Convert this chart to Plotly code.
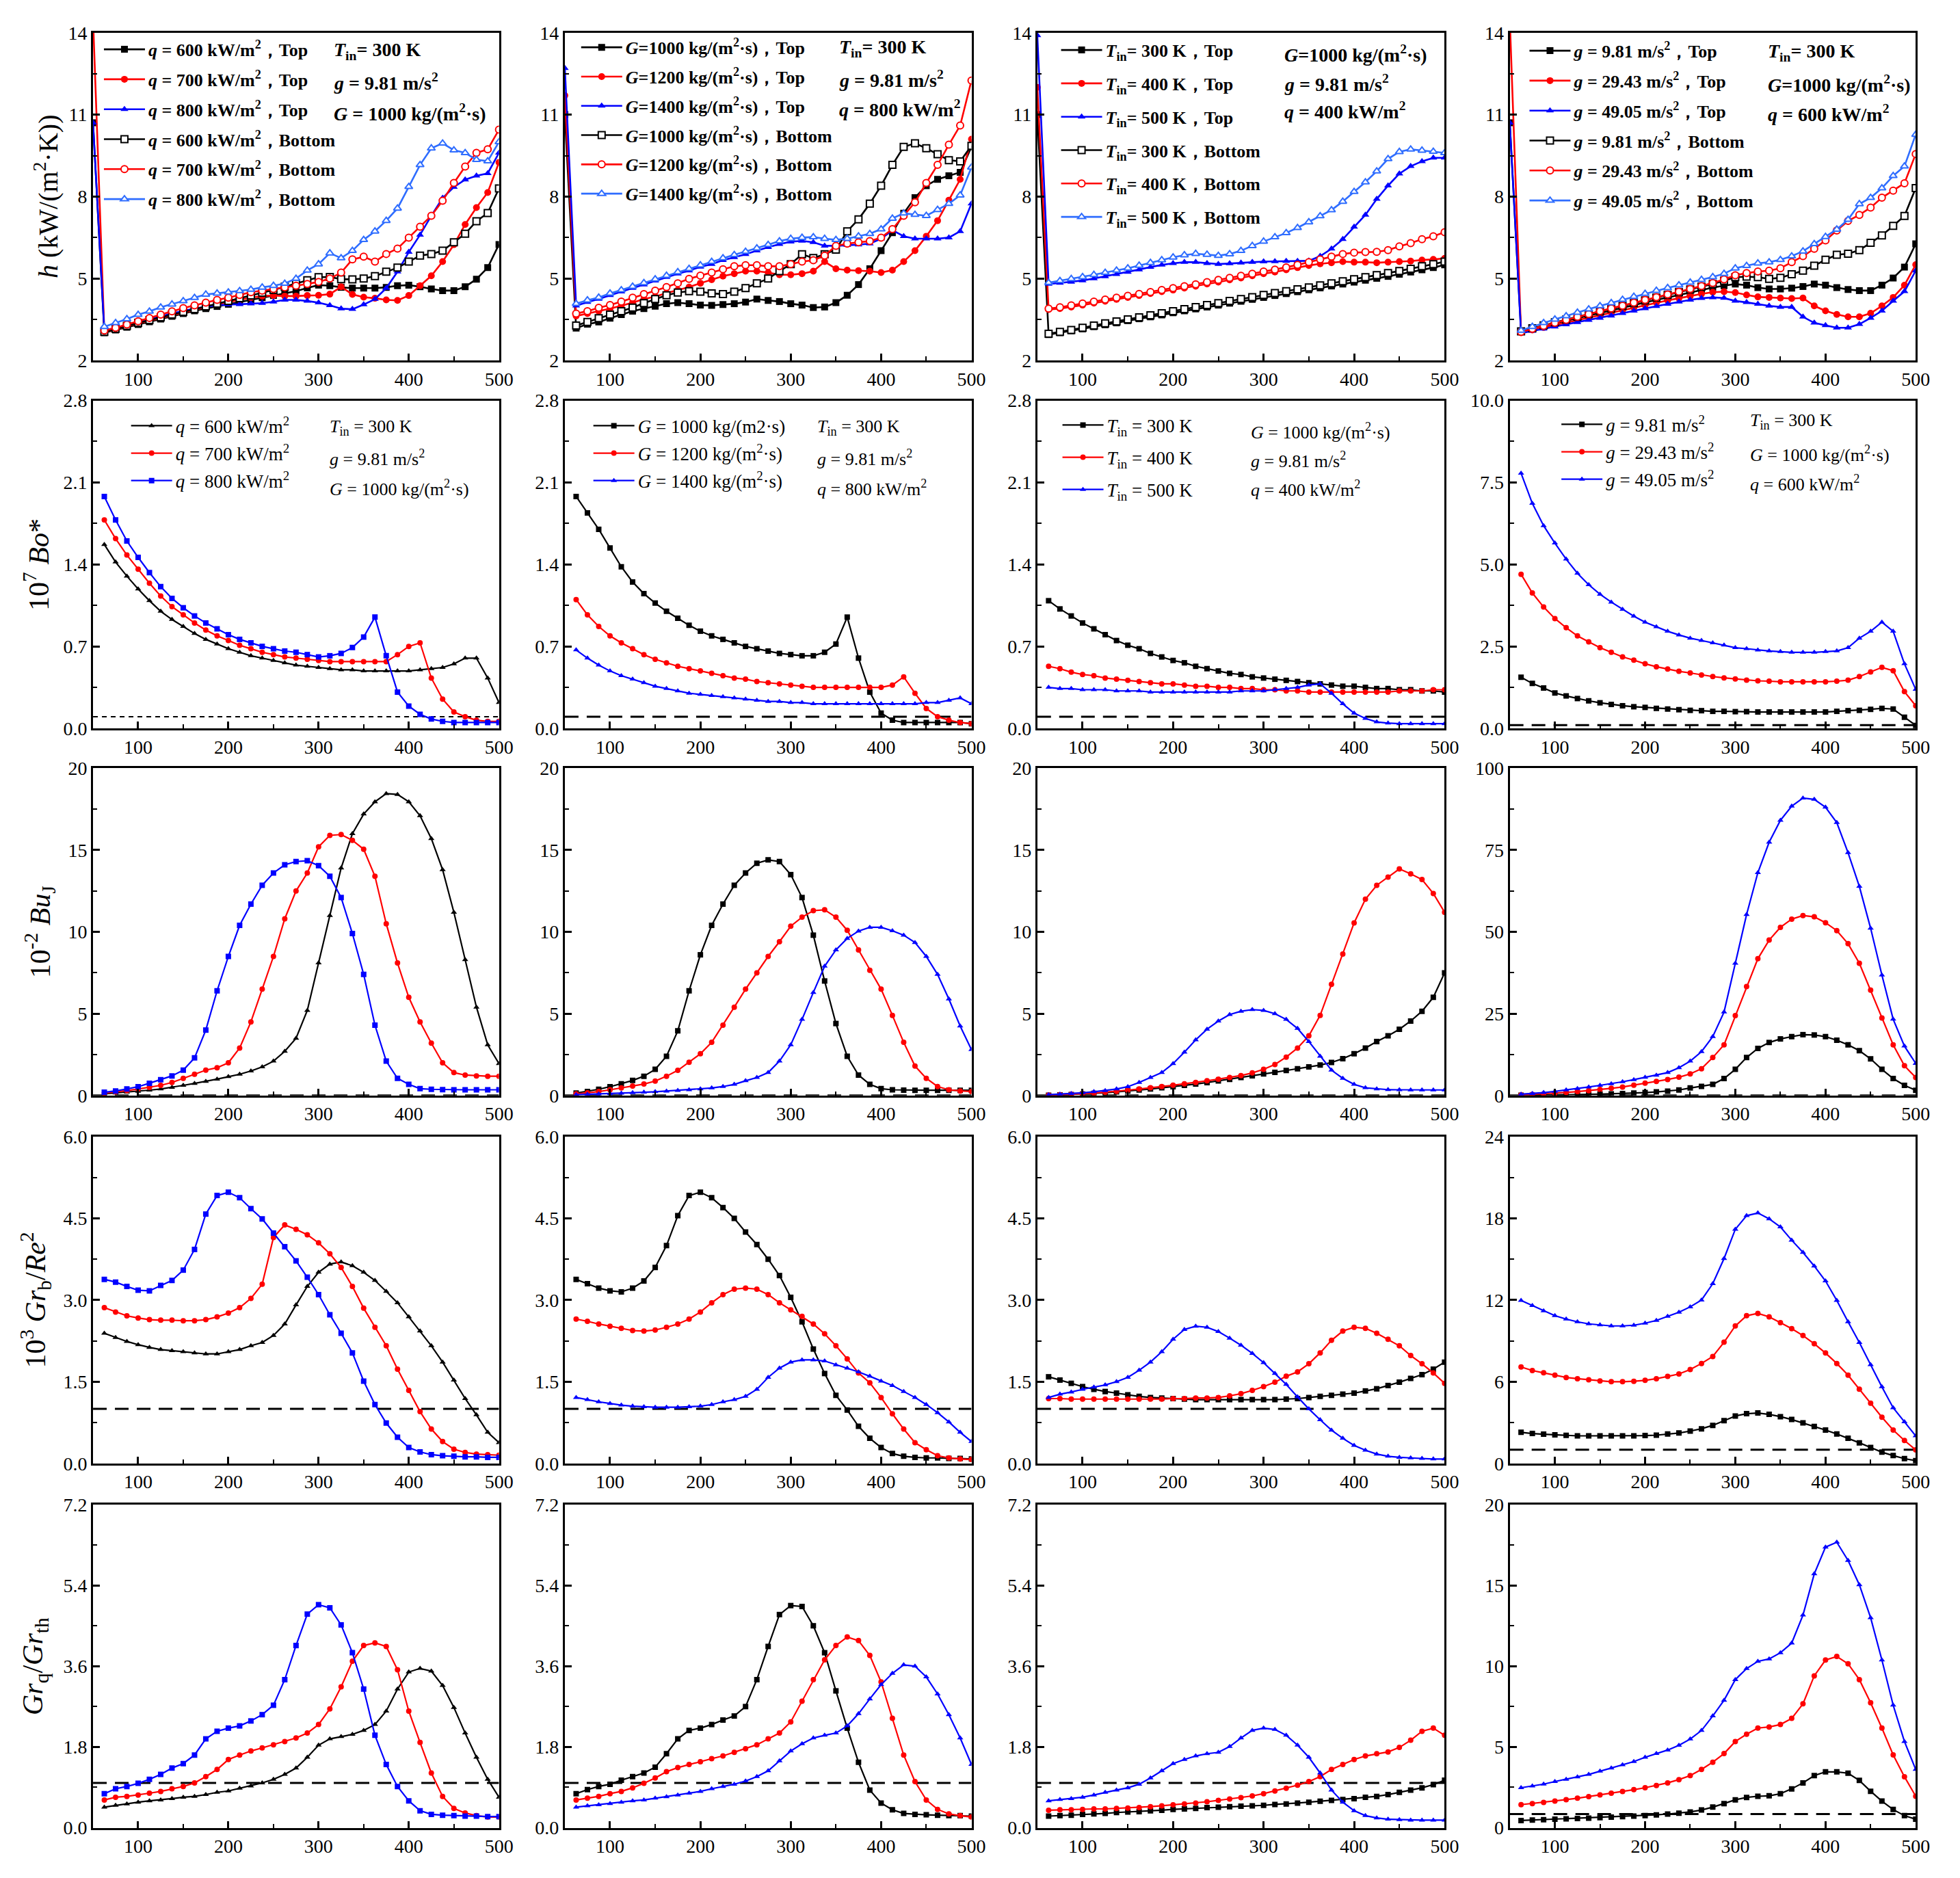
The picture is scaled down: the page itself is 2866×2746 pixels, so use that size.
import plotly.graph_objects as go
from plotly.subplots import make_subplots

W, H = 2866, 2746          # page (window) size
PAD = 8                    # browser body margin
FW, FH = W - 2 * PAD, H - 2 * PAD   # figure size so page is exactly W x H
FONT = "Liberation Serif, Times New Roman, serif"

# ---------------- x positions ----------------
X = [62.5, 75, 87.5, 100, 112.5, 125, 137.5, 150, 162.5, 175, 187.5, 200,
     212.5, 225, 237.5, 250, 262.5, 275, 287.5, 300, 312.5, 325, 337.5, 350,
     362.5, 375, 387.5, 400, 412.5, 425, 437.5, 450, 462.5, 475, 487.5, 500]
X_TOP = [50] + X
X_TICKS = [100, 200, 300, 400, 500]
X_TICK_TEXT = ["100", "200", "300", "400", "500"]

# ---------------- row 1 : h ----------------
H1_BT = [10.7, 3.02, 3.12, 3.22, 3.32, 3.42, 3.52, 3.62, 3.72, 3.82, 3.9, 3.98, 4.06, 4.14, 4.22, 4.3, 4.38, 4.46, 4.54, 4.66, 4.76, 4.74, 4.68, 4.65, 4.65, 4.65, 4.68, 4.74, 4.76, 4.7, 4.62, 4.56, 4.56, 4.7, 4.98, 5.4, 6.25]
H1_RT = [14.5, 3.05, 3.15, 3.26, 3.36, 3.46, 3.56, 3.66, 3.76, 3.86, 3.96, 4.05, 4.14, 4.22, 4.3, 4.36, 4.38, 4.36, 4.36, 4.38, 4.39, 4.43, 4.7, 4.42, 4.32, 4.28, 4.22, 4.2, 4.38, 4.74, 5.1, 5.62, 6.24, 6.98, 7.6, 8.15, 9.25]
H1_UT = [10.7, 3.1, 3.2, 3.3, 3.42, 3.52, 3.62, 3.72, 3.82, 3.9, 3.97, 4.02, 4.05, 4.06, 4.08, 4.1, 4.15, 4.22, 4.22, 4.18, 4.12, 4.02, 3.9, 3.88, 4.05, 4.25, 4.65, 5.25, 5.97, 6.6, 7.3, 7.95, 8.35, 8.62, 8.76, 8.85, 9.6]
H1_BB = [3.05, 3.16, 3.27, 3.38, 3.48, 3.58, 3.68, 3.78, 3.88, 3.98, 4.08, 4.18, 4.28, 4.38, 4.48, 4.58, 4.7, 4.82, 4.94, 5.05, 5.06, 4.98, 4.97, 5.0, 5.09, 5.25, 5.4, 5.62, 5.84, 5.9, 6.02, 6.33, 6.64, 7.1, 7.4, 8.3]
H1_RB = [3.1, 3.2, 3.32, 3.44, 3.56, 3.68, 3.8, 3.92, 4.02, 4.12, 4.22, 4.3, 4.4, 4.5, 4.56, 4.62, 4.68, 4.74, 4.8, 4.88, 5.0, 5.22, 5.7, 5.8, 5.62, 5.9, 6.1, 6.5, 6.9, 7.3, 7.85, 8.5, 9.1, 9.6, 9.73, 10.45]
H1_UB = [3.24, 3.38, 3.52, 3.68, 3.8, 3.95, 4.06, 4.18, 4.3, 4.42, 4.46, 4.5, 4.55, 4.6, 4.68, 4.74, 4.82, 5.0, 5.3, 5.53, 5.93, 5.75, 6.02, 6.42, 6.73, 7.12, 7.57, 8.36, 9.16, 9.77, 9.95, 9.7, 9.6, 9.35, 9.3, 10.0]

H2_BT = [11.0, 3.19, 3.33, 3.41, 3.55, 3.68, 3.81, 3.9, 3.99, 4.08, 4.12, 4.08, 4.03, 4.02, 4.05, 4.08, 4.14, 4.25, 4.2, 4.16, 4.08, 4.03, 3.94, 3.96, 4.12, 4.39, 4.78, 5.36, 6.02, 6.68, 7.39, 7.96, 8.4, 8.63, 8.76, 8.89, 9.82]
H2_RT = [11.7, 3.63, 3.72, 3.81, 3.9, 4.01, 4.12, 4.25, 4.34, 4.47, 4.58, 4.69, 4.83, 4.96, 5.09, 5.18, 5.27, 5.27, 5.22, 5.14, 5.14, 5.18, 5.27, 5.62, 5.36, 5.31, 5.29, 5.27, 5.22, 5.31, 5.62, 6.02, 6.55, 7.12, 7.87, 8.63, 10.1]
H2_UT = [12.7, 4.01, 4.14, 4.25, 4.39, 4.52, 4.65, 4.78, 4.92, 5.05, 5.18, 5.29, 5.43, 5.53, 5.67, 5.78, 5.89, 6.02, 6.15, 6.26, 6.35, 6.38, 6.33, 6.2, 6.2, 6.22, 6.24, 6.28, 6.46, 6.77, 6.55, 6.46, 6.46, 6.46, 6.5, 6.73, 7.74]
H2_BB = [3.28, 3.41, 3.55, 3.68, 3.81, 3.94, 4.1, 4.25, 4.39, 4.49, 4.54, 4.52, 4.46, 4.43, 4.52, 4.65, 4.83, 5.0, 5.27, 5.53, 5.89, 5.75, 5.89, 6.06, 6.73, 7.17, 7.74, 8.4, 9.16, 9.82, 9.95, 9.77, 9.55, 9.33, 9.29, 9.86]
H2_RB = [3.72, 3.81, 3.93, 4.03, 4.16, 4.3, 4.43, 4.56, 4.69, 4.83, 4.99, 5.11, 5.22, 5.34, 5.45, 5.49, 5.49, 5.45, 5.45, 5.53, 5.62, 5.67, 5.84, 6.2, 6.28, 6.33, 6.37, 6.5, 6.81, 7.3, 7.79, 8.5, 9.16, 9.9, 10.6, 12.25]
H2_UB = [4.08, 4.21, 4.31, 4.46, 4.58, 4.71, 4.84, 4.98, 5.11, 5.24, 5.36, 5.49, 5.62, 5.75, 5.87, 5.99, 6.11, 6.24, 6.37, 6.46, 6.5, 6.52, 6.46, 6.42, 6.46, 6.55, 6.64, 6.81, 7.2, 7.39, 7.34, 7.3, 7.52, 7.74, 8.05, 9.07]

H3_BT = [11.0, 2.95, 3.02, 3.09, 3.16, 3.24, 3.31, 3.38, 3.46, 3.53, 3.6, 3.67, 3.75, 3.82, 3.89, 3.96, 4.03, 4.1, 4.17, 4.24, 4.31, 4.38, 4.45, 4.52, 4.59, 4.66, 4.73, 4.8, 4.87, 4.94, 5.01, 5.08, 5.16, 5.24, 5.32, 5.4, 5.5]
H3_RT = [12.0, 3.87, 3.9, 3.96, 4.03, 4.1, 4.17, 4.24, 4.31, 4.38, 4.45, 4.52, 4.58, 4.65, 4.72, 4.8, 4.87, 4.95, 5.02, 5.1, 5.18, 5.24, 5.32, 5.4, 5.48, 5.54, 5.58, 5.62, 5.6, 5.6, 5.58, 5.6, 5.62, 5.64, 5.68, 5.7, 5.74]
H3_UT = [13.9, 4.8, 4.84, 4.88, 4.93, 5.0, 5.08, 5.16, 5.24, 5.33, 5.42, 5.5, 5.56, 5.6, 5.6, 5.56, 5.53, 5.55, 5.58, 5.6, 5.62, 5.63, 5.64, 5.64, 5.65, 5.82, 6.09, 6.44, 6.89, 7.33, 7.91, 8.4, 8.84, 9.11, 9.29, 9.42, 9.42]
H3_BB = [2.98, 3.05, 3.12, 3.2, 3.28, 3.36, 3.43, 3.51, 3.58, 3.66, 3.73, 3.81, 3.88, 3.96, 4.03, 4.1, 4.18, 4.25, 4.32, 4.4, 4.47, 4.54, 4.61, 4.68, 4.75, 4.83, 4.9, 4.98, 5.05, 5.13, 5.2, 5.28, 5.36, 5.45, 5.53, 5.62]
H3_RB = [3.9, 3.95, 4.02, 4.09, 4.16, 4.23, 4.3, 4.37, 4.44, 4.51, 4.58, 4.65, 4.72, 4.79, 4.87, 4.95, 5.03, 5.1, 5.18, 5.26, 5.33, 5.41, 5.5, 5.6, 5.7, 5.8, 5.9, 5.95, 5.97, 5.98, 6.04, 6.18, 6.3, 6.44, 6.55, 6.7]
H3_UB = [4.85, 4.92, 4.99, 5.06, 5.14, 5.22, 5.3, 5.38, 5.48, 5.58, 5.68, 5.78, 5.86, 5.91, 5.88, 5.84, 5.9, 6.02, 6.2, 6.36, 6.52, 6.67, 6.86, 7.07, 7.29, 7.51, 7.82, 8.18, 8.53, 8.93, 9.38, 9.64, 9.73, 9.69, 9.65, 9.6]

H4_BT = [10.7, 3.07, 3.17, 3.27, 3.37, 3.46, 3.55, 3.64, 3.73, 3.83, 3.93, 4.03, 4.13, 4.22, 4.31, 4.4, 4.49, 4.58, 4.67, 4.74, 4.8, 4.76, 4.67, 4.62, 4.62, 4.65, 4.71, 4.8, 4.76, 4.67, 4.6, 4.56, 4.56, 4.76, 5.02, 5.42, 6.27]
H4_RT = [14.5, 3.02, 3.12, 3.21, 3.31, 3.4, 3.49, 3.58, 3.67, 3.76, 3.85, 3.94, 4.03, 4.12, 4.2, 4.28, 4.36, 4.44, 4.5, 4.52, 4.49, 4.4, 4.33, 4.31, 4.29, 4.27, 4.29, 4.0, 3.82, 3.69, 3.6, 3.6, 3.73, 4.0, 4.31, 4.76, 5.51]
H4_UT = [10.7, 3.0, 3.08, 3.16, 3.24, 3.32, 3.4, 3.48, 3.56, 3.64, 3.73, 3.82, 3.91, 3.99, 4.07, 4.15, 4.22, 4.28, 4.31, 4.29, 4.18, 4.13, 4.07, 4.0, 3.96, 3.96, 3.6, 3.38, 3.29, 3.2, 3.2, 3.33, 3.56, 3.82, 4.18, 4.53, 5.29]
H4_BB = [3.07, 3.18, 3.29, 3.4, 3.5, 3.6, 3.7, 3.8, 3.9, 4.0, 4.1, 4.2, 4.3, 4.4, 4.5, 4.6, 4.7, 4.8, 4.92, 5.05, 5.07, 5.05, 4.99, 5.03, 5.16, 5.29, 5.47, 5.69, 5.87, 5.91, 6.04, 6.31, 6.58, 6.93, 7.29, 8.31]
H4_RB = [3.05, 3.16, 3.27, 3.38, 3.49, 3.6, 3.7, 3.81, 3.91, 4.01, 4.12, 4.22, 4.32, 4.42, 4.52, 4.62, 4.73, 4.84, 4.97, 5.12, 5.2, 5.26, 5.29, 5.38, 5.6, 5.82, 6.09, 6.4, 6.76, 7.11, 7.33, 7.6, 7.96, 8.22, 8.49, 9.56]
H4_UB = [3.1, 3.24, 3.38, 3.51, 3.63, 3.76, 3.88, 4.0, 4.11, 4.23, 4.34, 4.45, 4.56, 4.66, 4.76, 4.86, 4.96, 5.06, 5.18, 5.38, 5.47, 5.56, 5.6, 5.69, 5.82, 6.0, 6.27, 6.53, 6.8, 7.16, 7.73, 7.96, 8.31, 8.76, 9.11, 10.27]

# ---------------- row 2 : 10^7 Bo* ----------------
B1_K = [1.57, 1.42, 1.3, 1.19, 1.09, 1.0, 0.93, 0.87, 0.81, 0.76, 0.72, 0.68, 0.65, 0.62, 0.6, 0.58, 0.56, 0.54, 0.53, 0.52, 0.51, 0.5, 0.5, 0.49, 0.49, 0.49, 0.49, 0.49, 0.5, 0.51, 0.52, 0.55, 0.6, 0.6, 0.43, 0.22]
B1_R = [1.78, 1.62, 1.48, 1.36, 1.24, 1.13, 1.04, 0.97, 0.9, 0.84, 0.79, 0.75, 0.71, 0.68, 0.65, 0.63, 0.61, 0.6, 0.59, 0.58, 0.57, 0.57, 0.57, 0.57, 0.57, 0.57, 0.63, 0.7, 0.73, 0.43, 0.25, 0.14, 0.1, 0.07, 0.06, 0.06]
B1_U = [1.98, 1.78, 1.6, 1.46, 1.33, 1.21, 1.11, 1.03, 0.96, 0.9, 0.85, 0.8, 0.76, 0.73, 0.7, 0.68, 0.66, 0.65, 0.63, 0.61, 0.62, 0.64, 0.69, 0.78, 0.95, 0.62, 0.31, 0.19, 0.12, 0.08, 0.06, 0.05, 0.05, 0.05, 0.05, 0.05]
B2_K = [1.98, 1.84, 1.7, 1.54, 1.38, 1.25, 1.15, 1.07, 1.0, 0.94, 0.88, 0.83, 0.79, 0.76, 0.73, 0.7, 0.68, 0.66, 0.64, 0.63, 0.62, 0.62, 0.65, 0.72, 0.95, 0.6, 0.31, 0.13, 0.07, 0.05, 0.05, 0.05, 0.05, 0.05, 0.05, 0.04]
B2_R = [1.1, 0.97, 0.87, 0.79, 0.73, 0.68, 0.63, 0.59, 0.56, 0.53, 0.51, 0.49, 0.47, 0.45, 0.43, 0.42, 0.4, 0.39, 0.38, 0.37, 0.36, 0.35, 0.35, 0.35, 0.35, 0.35, 0.35, 0.35, 0.37, 0.44, 0.3, 0.17, 0.1, 0.07, 0.05, 0.04]
B2_U = [0.67, 0.6, 0.54, 0.49, 0.45, 0.42, 0.39, 0.36, 0.34, 0.32, 0.3, 0.29, 0.28, 0.27, 0.26, 0.25, 0.24, 0.23, 0.23, 0.22, 0.22, 0.21, 0.21, 0.21, 0.21, 0.21, 0.21, 0.21, 0.21, 0.21, 0.21, 0.22, 0.22, 0.24, 0.26, 0.21]
B3_K = [1.09, 1.02, 0.96, 0.9, 0.85, 0.8, 0.75, 0.71, 0.68, 0.64, 0.61, 0.58, 0.56, 0.53, 0.51, 0.49, 0.47, 0.46, 0.44, 0.43, 0.42, 0.41, 0.4, 0.39, 0.38, 0.37, 0.36, 0.36, 0.35, 0.34, 0.34, 0.33, 0.33, 0.32, 0.32, 0.31]
B3_R = [0.53, 0.51, 0.48, 0.46, 0.45, 0.43, 0.42, 0.41, 0.4, 0.39, 0.38, 0.38, 0.37, 0.36, 0.36, 0.35, 0.35, 0.34, 0.34, 0.33, 0.33, 0.32, 0.32, 0.31, 0.31, 0.31, 0.31, 0.31, 0.31, 0.31, 0.31, 0.32, 0.32, 0.32, 0.33, 0.33]
B3_U = [0.35, 0.34, 0.34, 0.33, 0.33, 0.33, 0.32, 0.32, 0.32, 0.31, 0.31, 0.31, 0.31, 0.31, 0.31, 0.31, 0.31, 0.32, 0.32, 0.32, 0.33, 0.34, 0.35, 0.37, 0.38, 0.3, 0.21, 0.13, 0.085, 0.055, 0.045, 0.04, 0.04, 0.04, 0.04, 0.04]
B4_K = [1.56, 1.37, 1.23, 1.08, 0.99, 0.91, 0.84, 0.78, 0.73, 0.69, 0.66, 0.64, 0.61, 0.59, 0.57, 0.55, 0.54, 0.52, 0.52, 0.51, 0.51, 0.5, 0.5, 0.5, 0.5, 0.5, 0.5, 0.5, 0.52, 0.54, 0.55, 0.58, 0.61, 0.59, 0.34, 0.09]
B4_R = [4.7, 4.13, 3.7, 3.35, 3.07, 2.82, 2.64, 2.46, 2.32, 2.18, 2.08, 1.97, 1.88, 1.81, 1.74, 1.69, 1.63, 1.58, 1.54, 1.51, 1.47, 1.45, 1.44, 1.42, 1.42, 1.42, 1.42, 1.42, 1.44, 1.47, 1.58, 1.72, 1.86, 1.76, 1.12, 0.69]
B4_U = [7.78, 6.86, 6.18, 5.65, 5.16, 4.73, 4.38, 4.09, 3.85, 3.63, 3.42, 3.24, 3.1, 2.96, 2.85, 2.75, 2.68, 2.61, 2.54, 2.46, 2.43, 2.39, 2.36, 2.34, 2.32, 2.32, 2.32, 2.34, 2.36, 2.46, 2.75, 2.96, 3.24, 2.96, 1.97, 1.19]

# ---------------- row 3 : 10^-2 Bu_J ----------------
C1_K = [0.1, 0.15, 0.2, 0.26, 0.33, 0.4, 0.5, 0.62, 0.74, 0.86, 1.0, 1.15, 1.3, 1.5, 1.75, 2.1, 2.7, 3.5, 5.2, 8.1, 11.0, 13.9, 16.0, 17.2, 17.95, 18.45, 18.4, 17.95, 17.1, 15.7, 13.8, 11.2, 8.3, 5.4, 3.1, 1.95]
C1_R = [0.15, 0.22, 0.3, 0.4, 0.5, 0.62, 0.8, 1.05, 1.3, 1.55, 1.7, 2.0, 2.9, 4.5, 6.5, 8.5, 10.8, 12.5, 13.6, 15.2, 15.9, 15.95, 15.6, 15.05, 13.4, 10.5, 8.1, 6.0, 4.5, 3.2, 2.0, 1.4, 1.25, 1.2, 1.18, 1.18]
C1_U = [0.2, 0.28, 0.4, 0.54, 0.75, 0.97, 1.2, 1.55, 2.3, 4.0, 6.4, 8.5, 10.4, 11.7, 12.85, 13.6, 14.1, 14.3, 14.35, 14.05, 13.4, 12.1, 9.9, 7.4, 4.3, 2.1, 1.05, 0.68, 0.42, 0.38, 0.36, 0.35, 0.35, 0.35, 0.35, 0.35]
C2_K = [0.15, 0.25, 0.38, 0.54, 0.72, 0.92, 1.18, 1.6, 2.4, 3.95, 6.4, 8.6, 10.4, 11.7, 12.85, 13.6, 14.2, 14.4, 14.3, 13.5, 12.1, 9.8, 7.0, 4.4, 2.4, 1.25, 0.68, 0.42, 0.35, 0.33, 0.32, 0.32, 0.32, 0.32, 0.32, 0.32]
C2_R = [0.1, 0.16, 0.24, 0.35, 0.46, 0.58, 0.7, 0.88, 1.18, 1.54, 2.03, 2.55, 3.25, 4.3, 5.4, 6.5, 7.5, 8.5, 9.4, 10.35, 10.9, 11.3, 11.35, 10.9, 10.1, 8.9, 7.65, 6.5, 4.9, 3.25, 1.8, 1.05, 0.55, 0.35, 0.28, 0.25]
C2_U = [0.05, 0.07, 0.09, 0.11, 0.14, 0.17, 0.2, 0.23, 0.27, 0.31, 0.35, 0.4, 0.46, 0.55, 0.68, 0.9, 1.1, 1.4, 2.1, 3.1, 4.65, 6.3, 7.9, 8.9, 9.6, 10.05, 10.28, 10.28, 10.07, 9.8, 9.35, 8.5, 7.4, 5.9, 4.25, 2.8]
C3_K = [0.02, 0.04, 0.06, 0.09, 0.13, 0.17, 0.22, 0.28, 0.34, 0.4, 0.47, 0.54, 0.62, 0.7, 0.79, 0.89, 0.99, 1.1, 1.21, 1.32, 1.42, 1.53, 1.64, 1.75, 1.86, 2.02, 2.25, 2.55, 2.9, 3.3, 3.65, 4.05, 4.55, 5.15, 6.0, 7.5]
C3_R = [0.03, 0.05, 0.08, 0.11, 0.15, 0.2, 0.26, 0.33, 0.4, 0.47, 0.55, 0.63, 0.72, 0.8, 0.9, 1.0, 1.1, 1.22, 1.38, 1.6, 1.9, 2.35, 2.9, 3.65, 4.9, 6.8, 8.65, 10.55, 12.0, 12.85, 13.35, 13.85, 13.55, 13.2, 12.35, 11.2]
C3_U = [0.05, 0.08, 0.12, 0.17, 0.23, 0.3, 0.4, 0.54, 0.8, 1.1, 1.4, 1.95, 2.65, 3.4, 4.05, 4.55, 4.95, 5.15, 5.25, 5.2, 5.0, 4.65, 4.1, 3.3, 2.4, 1.55, 1.05, 0.68, 0.47, 0.4, 0.36, 0.35, 0.34, 0.34, 0.34, 0.34]
C4_K = [0.05, 0.08, 0.12, 0.17, 0.22, 0.28, 0.35, 0.43, 0.52, 0.62, 0.75, 0.9, 1.1, 1.35, 1.7, 2.3, 2.8, 3.4, 5.2, 8.0, 11.6, 14.4, 16.2, 17.3, 18.0, 18.6, 18.5, 18.0, 16.9, 15.5, 13.7, 11.2, 8.0, 5.2, 3.1, 1.6]
C4_R = [0.2, 0.35, 0.5, 0.7, 0.95, 1.2, 1.5, 1.85, 2.2, 2.6, 3.15, 3.8, 4.3, 4.9, 5.6, 6.6, 8.2, 11.6, 15.5, 24.4, 33.3, 41.8, 47.5, 51.4, 53.9, 55.0, 54.6, 52.8, 50.4, 46.4, 40.4, 32.2, 23.7, 15.5, 9.1, 5.5]
C4_U = [0.4, 0.6, 0.9, 1.28, 1.7, 2.1, 2.6, 3.1, 3.6, 4.2, 4.85, 5.55, 6.2, 7.0, 8.5, 10.5, 13.4, 18.0, 25.5, 40.4, 55.3, 68.1, 77.4, 84.1, 88.4, 90.9, 90.5, 88.1, 83.4, 74.2, 63.9, 51.1, 36.8, 23.3, 15.1, 9.8]

# ---------------- row 4 : 10^3 Gr_b/Re^2 ----------------
D1_K = [2.39, 2.31, 2.24, 2.18, 2.13, 2.09, 2.07, 2.05, 2.03, 2.01, 2.01, 2.05, 2.09, 2.16, 2.22, 2.35, 2.56, 2.91, 3.25, 3.51, 3.66, 3.7, 3.63, 3.51, 3.36, 3.16, 2.95, 2.69, 2.43, 2.16, 1.86, 1.53, 1.19, 0.89, 0.57, 0.38]
D1_R = [2.86, 2.78, 2.71, 2.67, 2.64, 2.63, 2.63, 2.62, 2.62, 2.64, 2.69, 2.76, 2.86, 3.03, 3.29, 4.15, 4.38, 4.3, 4.2, 4.05, 3.85, 3.6, 3.25, 2.85, 2.5, 2.16, 1.73, 1.34, 0.95, 0.63, 0.4, 0.26, 0.2, 0.17, 0.16, 0.15]
D1_U = [3.38, 3.33, 3.25, 3.18, 3.17, 3.27, 3.36, 3.55, 3.93, 4.58, 4.92, 4.98, 4.88, 4.68, 4.49, 4.23, 3.98, 3.72, 3.42, 3.1, 2.73, 2.39, 2.03, 1.51, 1.08, 0.74, 0.48, 0.29, 0.21, 0.16, 0.14, 0.13, 0.12, 0.12, 0.11, 0.11]
D2_K = [3.38, 3.3, 3.22, 3.17, 3.15, 3.22, 3.35, 3.6, 4.0, 4.55, 4.92, 4.98, 4.88, 4.7, 4.5, 4.25, 4.02, 3.75, 3.45, 3.05, 2.6, 2.1, 1.65, 1.25, 0.98, 0.68, 0.46, 0.29, 0.18, 0.13, 0.11, 0.1, 0.1, 0.09, 0.09, 0.08]
D2_R = [2.65, 2.61, 2.56, 2.52, 2.48, 2.44, 2.43, 2.45, 2.5, 2.56, 2.65, 2.78, 2.95, 3.1, 3.2, 3.22, 3.2, 3.1, 2.95, 2.82, 2.7, 2.56, 2.38, 2.16, 1.92, 1.66, 1.48, 1.21, 0.91, 0.63, 0.38, 0.25, 0.14, 0.1, 0.08, 0.07]
D2_U = [1.21, 1.17, 1.13, 1.1, 1.07, 1.05, 1.04, 1.03, 1.03, 1.03, 1.04, 1.05, 1.08, 1.13, 1.17, 1.23, 1.36, 1.58, 1.75, 1.86, 1.9, 1.9, 1.88, 1.81, 1.75, 1.68, 1.6, 1.51, 1.43, 1.32, 1.21, 1.08, 0.93, 0.76, 0.57, 0.4]
D3_K = [1.59, 1.53, 1.47, 1.41, 1.36, 1.32, 1.29, 1.26, 1.23, 1.21, 1.2, 1.19, 1.18, 1.17, 1.17, 1.17, 1.17, 1.17, 1.17, 1.17, 1.17, 1.18, 1.19, 1.21, 1.23, 1.25, 1.27, 1.29, 1.33, 1.37, 1.43, 1.49, 1.56, 1.63, 1.73, 1.86]
D3_R = [1.19, 1.19, 1.18, 1.18, 1.18, 1.18, 1.18, 1.18, 1.18, 1.18, 1.18, 1.19, 1.19, 1.2, 1.2, 1.21, 1.24, 1.28, 1.34, 1.41, 1.49, 1.6, 1.68, 1.83, 2.03, 2.26, 2.43, 2.5, 2.48, 2.39, 2.28, 2.16, 1.98, 1.83, 1.66, 1.47]
D3_U = [1.21, 1.27, 1.31, 1.36, 1.4, 1.44, 1.5, 1.58, 1.71, 1.86, 2.05, 2.28, 2.46, 2.52, 2.5, 2.42, 2.3, 2.17, 2.02, 1.85, 1.65, 1.45, 1.22, 1.0, 0.8, 0.61, 0.46, 0.33, 0.24, 0.17, 0.13, 0.11, 0.1, 0.09, 0.08, 0.08]
D4_K = [2.28, 2.19, 2.14, 2.09, 2.06, 2.02, 2.02, 2.02, 2.02, 2.02, 2.02, 2.04, 2.07, 2.16, 2.23, 2.37, 2.54, 2.79, 3.14, 3.48, 3.65, 3.7, 3.6, 3.43, 3.22, 2.97, 2.71, 2.45, 2.16, 1.85, 1.51, 1.17, 0.82, 0.57, 0.35, 0.2]
D4_R = [7.08, 6.82, 6.65, 6.48, 6.31, 6.22, 6.14, 6.05, 6.0, 6.0, 6.03, 6.1, 6.22, 6.39, 6.57, 6.9, 7.34, 7.85, 8.9, 10.1, 10.85, 11.02, 10.77, 10.34, 9.9, 9.39, 8.79, 8.11, 7.34, 6.48, 5.45, 4.42, 3.39, 2.45, 1.68, 0.99]
D4_U = [11.97, 11.6, 11.2, 10.85, 10.6, 10.4, 10.25, 10.17, 10.1, 10.1, 10.15, 10.3, 10.5, 10.8, 11.1, 11.5, 12.0, 13.2, 15.05, 17.2, 18.2, 18.4, 17.97, 17.37, 16.4, 15.5, 14.5, 13.4, 11.97, 10.4, 8.88, 7.25, 5.62, 4.08, 3.05, 2.02]

# ---------------- row 5 : Gr_q/Gr_th ----------------
E1_K = [0.46, 0.5, 0.53, 0.57, 0.6, 0.62, 0.65, 0.68, 0.7, 0.74, 0.79, 0.82, 0.88, 0.93, 1.0, 1.08, 1.19, 1.33, 1.57, 1.84, 1.98, 2.03, 2.08, 2.17, 2.3, 2.6, 3.09, 3.47, 3.55, 3.49, 3.17, 2.68, 2.11, 1.57, 1.08, 0.68]
E1_R = [0.62, 0.68, 0.7, 0.73, 0.77, 0.81, 0.87, 0.92, 1.0, 1.14, 1.3, 1.52, 1.62, 1.71, 1.78, 1.85, 1.92, 2.0, 2.11, 2.3, 2.65, 3.14, 3.71, 4.06, 4.12, 4.04, 3.52, 2.6, 1.9, 1.22, 0.7, 0.43, 0.33, 0.27, 0.24, 0.24]
E1_U = [0.76, 0.87, 0.92, 0.99, 1.08, 1.19, 1.33, 1.43, 1.62, 1.98, 2.15, 2.22, 2.27, 2.38, 2.52, 2.73, 3.3, 4.06, 4.76, 4.97, 4.9, 4.52, 3.9, 3.09, 2.06, 1.41, 0.92, 0.6, 0.38, 0.3, 0.28, 0.27, 0.26, 0.26, 0.25, 0.25]
E2_K = [0.76, 0.85, 0.92, 0.97, 1.06, 1.14, 1.22, 1.35, 1.65, 1.98, 2.17, 2.22, 2.3, 2.4, 2.49, 2.7, 3.3, 4.04, 4.75, 4.95, 4.93, 4.5, 3.9, 3.05, 2.22, 1.46, 0.84, 0.55, 0.4, 0.32, 0.3, 0.29, 0.28, 0.27, 0.27, 0.26]
E2_R = [0.62, 0.66, 0.7, 0.76, 0.81, 0.89, 0.99, 1.11, 1.25, 1.34, 1.41, 1.47, 1.54, 1.6, 1.68, 1.76, 1.85, 1.98, 2.11, 2.36, 2.82, 3.3, 3.74, 4.06, 4.25, 4.17, 3.84, 3.25, 2.44, 1.62, 1.03, 0.62, 0.41, 0.31, 0.27, 0.24]
E2_U = [0.46, 0.49, 0.51, 0.54, 0.57, 0.6, 0.62, 0.66, 0.69, 0.73, 0.77, 0.81, 0.87, 0.92, 0.97, 1.04, 1.14, 1.27, 1.49, 1.71, 1.87, 2.0, 2.06, 2.11, 2.27, 2.54, 2.87, 3.19, 3.44, 3.63, 3.6, 3.36, 2.98, 2.52, 2.0, 1.41]
E3_K = [0.26, 0.27, 0.28, 0.3, 0.31, 0.32, 0.34, 0.35, 0.36, 0.38, 0.39, 0.41, 0.42, 0.43, 0.45, 0.46, 0.47, 0.48, 0.49, 0.5, 0.52, 0.53, 0.55, 0.57, 0.59, 0.61, 0.63, 0.65, 0.68, 0.7, 0.74, 0.79, 0.84, 0.89, 0.96, 1.06]
E3_R = [0.39, 0.4, 0.4, 0.41, 0.42, 0.42, 0.43, 0.44, 0.45, 0.47, 0.49, 0.51, 0.53, 0.55, 0.58, 0.61, 0.64, 0.67, 0.71, 0.76, 0.82, 0.88, 0.95, 1.03, 1.14, 1.3, 1.41, 1.52, 1.6, 1.65, 1.69, 1.79, 1.95, 2.15, 2.22, 2.06]
E3_U = [0.6, 0.63, 0.65, 0.68, 0.73, 0.79, 0.84, 0.89, 0.97, 1.11, 1.27, 1.43, 1.52, 1.6, 1.65, 1.68, 1.81, 2.0, 2.17, 2.22, 2.19, 2.06, 1.84, 1.57, 1.22, 0.84, 0.57, 0.38, 0.27, 0.22, 0.19, 0.18, 0.17, 0.17, 0.17, 0.17]
E4_K = [0.45, 0.48, 0.5, 0.53, 0.55, 0.57, 0.6, 0.63, 0.66, 0.69, 0.72, 0.75, 0.8, 0.85, 0.9, 0.98, 1.1, 1.28, 1.5, 1.73, 1.88, 1.95, 1.98, 2.11, 2.41, 2.78, 3.23, 3.46, 3.46, 3.38, 2.93, 2.26, 1.65, 1.13, 0.75, 0.53]
E4_R = [1.43, 1.5, 1.57, 1.65, 1.74, 1.83, 1.93, 2.03, 2.14, 2.25, 2.36, 2.48, 2.62, 2.78, 2.98, 3.23, 3.61, 4.06, 4.59, 5.34, 5.79, 6.17, 6.24, 6.39, 6.77, 7.67, 9.4, 10.38, 10.6, 10.15, 9.17, 7.74, 6.17, 4.51, 3.16, 1.95]
E4_U = [2.48, 2.58, 2.7, 2.86, 3.0, 3.15, 3.3, 3.5, 3.7, 3.9, 4.1, 4.36, 4.6, 4.81, 5.1, 5.49, 6.02, 6.92, 7.89, 9.17, 9.85, 10.3, 10.45, 10.83, 11.43, 13.16, 15.71, 17.37, 17.67, 16.54, 15.04, 13.0, 10.38, 7.59, 5.34, 3.61]

# ---------------- axis ticks ----------------
H_TICKS, H_TEXT = [2, 5, 8, 11, 14], ["2", "5", "8", "11", "14"]
BO_TICKS, BO_TEXT = [0, 0.7, 1.4, 2.1, 2.8], ["0.0", "0.7", "1.4", "2.1", "2.8"]
BO4_TICKS, BO4_TEXT = [0, 2.5, 5, 7.5, 10], ["0.0", "2.5", "5.0", "7.5", "10.0"]
BU_TICKS, BU_TEXT = [0, 5, 10, 15, 20], ["0", "5", "10", "15", "20"]
BU4_TICKS, BU4_TEXT = [0, 25, 50, 75, 100], ["0", "25", "50", "75", "100"]
GR_TICKS, GR_TEXT = [0, 1.5, 3, 4.5, 6], ["0.0", "1.5", "3.0", "4.5", "6.0"]
GR4_TICKS, GR4_TEXT = [0, 6, 12, 18, 24], ["0", "6", "12", "18", "24"]
GQ_TICKS, GQ_TEXT = [0, 1.8, 3.6, 5.4, 7.2], ["0.0", "1.8", "3.6", "5.4", "7.2"]
GQ4_TICKS, GQ4_TEXT = [0, 5, 10, 15, 20], ["0", "5", "10", "15", "20"]

# reference (dashed) levels
BO_LIMIT, BU_LIMIT, GR_LIMIT, GQ_LIMIT, GQ4_LIMIT = 0.1, 0.0, 1.0, 1.0, 0.85

# ---------------- labels ----------------
M2 = "m<sup>2</sup>"
KG = "kg/(m<sup>2</sup>·s)"
TIN = "<i>T</i><sub>in</sub>"
H1_NAMES = [f"<b><i>q</i> = 600 kW/{M2}，Top</b>", f"<b><i>q</i> = 700 kW/{M2}，Top</b>",
            f"<b><i>q</i> = 800 kW/{M2}，Top</b>", f"<b><i>q</i> = 600 kW/{M2}，Bottom</b>",
            f"<b><i>q</i> = 700 kW/{M2}，Bottom</b>", f"<b><i>q</i> = 800 kW/{M2}，Bottom</b>"]
H2_NAMES = [f"<b><i>G</i>=1000 {KG}，Top</b>", f"<b><i>G</i>=1200 {KG}，Top</b>",
            f"<b><i>G</i>=1400 {KG}，Top</b>", f"<b><i>G</i>=1000 {KG}，Bottom</b>",
            f"<b><i>G</i>=1200 {KG}，Bottom</b>", f"<b><i>G</i>=1400 {KG}，Bottom</b>"]
H3_NAMES = [f"<b>{TIN}= 300 K，Top</b>", f"<b>{TIN}= 400 K，Top</b>", f"<b>{TIN}= 500 K，Top</b>",
            f"<b>{TIN}= 300 K，Bottom</b>", f"<b>{TIN}= 400 K，Bottom</b>", f"<b>{TIN}= 500 K，Bottom</b>"]
H4_NAMES = [f"<b><i>g</i> = 9.81 m/s<sup>2</sup>，Top</b>", f"<b><i>g</i> = 29.43 m/s<sup>2</sup>，Top</b>",
            f"<b><i>g</i> = 49.05 m/s<sup>2</sup>，Top</b>", f"<b><i>g</i> = 9.81 m/s<sup>2</sup>，Bottom</b>",
            f"<b><i>g</i> = 29.43 m/s<sup>2</sup>，Bottom</b>", f"<b><i>g</i> = 49.05 m/s<sup>2</sup>，Bottom</b>"]
H1_SIDE = [f"<b>{TIN}= 300 K</b>", "<b><i>g</i> = 9.81 m/s<sup>2</sup></b>", f"<b><i>G</i> = 1000 {KG}</b>"]
H2_SIDE = [f"<b>{TIN}= 300 K</b>", "<b><i>g</i> = 9.81 m/s<sup>2</sup></b>", f"<b><i>q</i> = 800 kW/{M2}</b>"]
H3_SIDE = [f"<b><i>G</i>=1000 {KG}</b>", "<b><i>g</i> = 9.81 m/s<sup>2</sup></b>", f"<b><i>q</i> = 400 kW/{M2}</b>"]
H4_SIDE = [f"<b>{TIN}= 300 K</b>", f"<b><i>G</i>=1000 {KG}</b>", f"<b><i>q</i> = 600 kW/{M2}</b>"]

B1_NAMES = [f"<i>q</i> = 600 kW/{M2}", f"<i>q</i> = 700 kW/{M2}", f"<i>q</i> = 800 kW/{M2}"]
B2_NAMES = ["<i>G</i> = 1000 kg/(m2·s)", f"<i>G</i> = 1200 {KG}", f"<i>G</i> = 1400 {KG}"]
B3_NAMES = [f"{TIN} = 300 K", f"{TIN} = 400 K", f"{TIN} = 500 K"]
B4_NAMES = ["<i>g</i> = 9.81 m/s<sup>2</sup>", "<i>g</i> = 29.43 m/s<sup>2</sup>", "<i>g</i> = 49.05 m/s<sup>2</sup>"]
B1_SIDE = [f"{TIN} = 300 K", "<i>g</i> = 9.81 m/s<sup>2</sup>", f"<i>G</i> = 1000 {KG}"]
B2_SIDE = [f"{TIN} = 300 K", "<i>g</i> = 9.81 m/s<sup>2</sup>", f"<i>q</i> = 800 kW/{M2}"]
B3_SIDE = [f"<i>G</i> = 1000 {KG}", "<i>g</i> = 9.81 m/s<sup>2</sup>", f"<i>q</i> = 400 kW/{M2}"]
B4_SIDE = [f"{TIN} = 300 K", f"<i>G</i> = 1000 {KG}", f"<i>q</i> = 600 kW/{M2}"]

ROW_TITLES = ["<i>h</i> (kW/(m<sup>2</sup>·K))", "10<sup>7</sup> <i>Bo</i>*",
              "10<sup>-2</sup> <i>Bu</i><sub>J</sub>", "10<sup>3</sup> <i>Gr</i><sub>b</sub>/<i>Re</i><sup>2</sup>",
              "<i>Gr</i><sub>q</sub>/<i>Gr</i><sub>th</sub>"]

# ---------------- layout geometry (page pixels) ----------------
COL_X = [(137, 735), (832, 1431), (1528, 2128), (2224, 2822)]
ROW_Y = [(33, 518), (577, 1062), (1121, 1605), (1666, 2149), (2210, 2688)]

BLACK, RED, BLUE, LBLUE = "#000000", "#ff0000", "#0000ff", "#2f6dff"

fig = make_subplots(rows=5, cols=4)


def px_x(p):
    return (p - PAD) / FW


def px_y(p):
    return 1 - (p - PAD) / FH


# ---- row 1 panels ----
ROW1 = [
    (1, [H1_BT, H1_RT, H1_UT, H1_BB, H1_RB, H1_UB], H1_NAMES, H1_SIDE),
    (2, [H2_BT, H2_RT, H2_UT, H2_BB, H2_RB, H2_UB], H2_NAMES, H2_SIDE),
    (3, [H3_BT, H3_RT, H3_UT, H3_BB, H3_RB, H3_UB], H3_NAMES, H3_SIDE),
    (4, [H4_BT, H4_RT, H4_UT, H4_BB, H4_RB, H4_UB], H4_NAMES, H4_SIDE),
]
STY6 = [(BLACK, "square", True), (RED, "circle", True), (BLUE, "triangle-up", True),
        (BLACK, "square", False), (RED, "circle", False), (LBLUE, "triangle-up", False)]
# legend left, legend top, group gap, (side-text x, side-text y centres)
LEG1 = {1: (148, 34, 7, (490, [60, 106, 151])),
        2: (851, 31, 6, (1234, [56, 102, 145])),
        3: (1558, 35, 12, (1890, [64, 108, 148])),
        4: (2248, 36, 7, (2602, [62, 109, 152]))}

annotations = []

for col, series, names, side in ROW1:
    lname = "legend" if col == 1 else f"legend{col}"
    for i, (ys, nm, (c, sym, filled)) in enumerate(zip(series, names, STY6)):
        xs = X_TOP if i < 3 else X
        if filled:
            mk = dict(symbol=sym, size=10, color=c, line=dict(width=0))
        else:
            mk = dict(symbol=sym, size=10, color="white", line=dict(color=c, width=2))
        fig.add_trace(go.Scatter(x=xs, y=ys, mode="lines+markers", name=nm,
                                 line=dict(color=c, width=2.6), marker=mk,
                                 legend=lname, legendgroup=f"g{col}_{i}",
                                 showlegend=True), row=1, col=col)
    lx, ltop, gap, (sx, sys_) = LEG1[col]
    fig.update_layout({lname: dict(x=px_x(lx), y=px_y(ltop), xanchor="left", yanchor="top",
                                   bgcolor="rgba(0,0,0,0)", borderwidth=0, itemwidth=60,
                                   tracegroupgap=gap, font=dict(family=FONT, size=26, color="black"))})
    for txt, yy in zip(side, sys_):
        annotations.append(dict(x=px_x(sx), y=px_y(yy), xref="paper", yref="paper",
                                text=txt, showarrow=False, xanchor="left", yanchor="middle",
                                font=dict(family=FONT, size=28, color="black")))

# ---- rows 2-5 ----
LOWER = [
    (2, [[B1_K, B1_R, B1_U], [B2_K, B2_R, B2_U], [B3_K, B3_R, B3_U], [B4_K, B4_R, B4_U]],
     [(BO_TICKS, BO_TEXT)] * 3 + [(BO4_TICKS, BO4_TEXT)], [BO_LIMIT] * 4),
    (3, [[C1_K, C1_R, C1_U], [C2_K, C2_R, C2_U], [C3_K, C3_R, C3_U], [C4_K, C4_R, C4_U]],
     [(BU_TICKS, BU_TEXT)] * 3 + [(BU4_TICKS, BU4_TEXT)], [BU_LIMIT] * 4),
    (4, [[D1_K, D1_R, D1_U], [D2_K, D2_R, D2_U], [D3_K, D3_R, D3_U], [D4_K, D4_R, D4_U]],
     [(GR_TICKS, GR_TEXT)] * 3 + [(GR4_TICKS, GR4_TEXT)], [GR_LIMIT] * 4),
    (5, [[E1_K, E1_R, E1_U], [E2_K, E2_R, E2_U], [E3_K, E3_R, E3_U], [E4_K, E4_R, E4_U]],
     [(GQ_TICKS, GQ_TEXT)] * 3 + [(GQ4_TICKS, GQ4_TEXT)], [GQ_LIMIT] * 3 + [GQ4_LIMIT]),
]
ROW2_NAMES = [B1_NAMES, B2_NAMES, B3_NAMES, B4_NAMES]
ROW2_SIDE = [B1_SIDE, B2_SIDE, B3_SIDE, B4_SIDE]
LEG2 = {1: (188, 590, 2, (484, [617, 662, 706])),
        2: (869, 590, 2, (1202, [617, 662, 706])),
        3: (1560, 589, 9, (1840, [622, 665, 707])),
        4: (2295, 588, 2, (2576, [608, 656, 699]))}

for row, panels, ticks, limits in LOWER:
    for ci, (ys3, tk, lim) in enumerate(zip(panels, ticks, limits)):
        col = ci + 1
        dash = "7px,6px" if (row == 2 and col == 1) else "20px,12px"
        dw = 2 if (row == 2 and col == 1) else 3
        fig.add_trace(go.Scatter(x=[50, 500], y=[lim, lim], mode="lines",
                                 line=dict(color="black", width=dw, dash=dash),
                                 showlegend=False, hoverinfo="skip"), row=row, col=col)
        if col == 1:
            sty = [(BLACK, "triangle-up"), (RED, "circle"), (BLUE, "square")]
        else:
            sty = [(BLACK, "square"), (RED, "circle"), (BLUE, "triangle-up")]
        for i, (ys, (c, sym)) in enumerate(zip(ys3, sty)):
            show = row == 2
            kw = {}
            if show:
                kw = dict(name=ROW2_NAMES[ci][i], legend=f"legend{4 + col}",
                          legendgroup=f"r2_{col}_{i}")
            fig.add_trace(go.Scatter(x=X, y=ys, mode="lines+markers",
                                     line=dict(color=c, width=2.2),
                                     marker=dict(symbol=sym, size=8, color=c, line=dict(width=0)),
                                     showlegend=show, **kw), row=row, col=col)
        fig.update_yaxes(tickmode="array", tickvals=tk[0], ticktext=tk[1],
                         range=[tk[0][0], tk[0][-1]], row=row, col=col,
                         minor=dict(ticks="inside", ticklen=6, tickwidth=2,
                                    tick0=tk[0][0], dtick=(tk[0][1] - tk[0][0]) / 2,
                                    showgrid=False))

for col in range(1, 5):
    lname = f"legend{4 + col}"
    lx, ltop, gap, (sx, sys_) = LEG2[col]
    fig.update_layout({lname: dict(x=px_x(lx), y=px_y(ltop), xanchor="left", yanchor="top",
                                   bgcolor="rgba(0,0,0,0)", borderwidth=0, itemwidth=60,
                                   tracegroupgap=gap, font=dict(family=FONT, size=27, color="black"))})
    for txt, yy in zip(ROW2_SIDE[col - 1], sys_):
        annotations.append(dict(x=px_x(sx), y=px_y(yy), xref="paper", yref="paper",
                                text=txt, showarrow=False, xanchor="left", yanchor="middle",
                                font=dict(family=FONT, size=26, color="black")))

for col in range(1, 5):
    fig.update_yaxes(tickmode="array", tickvals=H_TICKS, ticktext=H_TEXT, range=[2, 14],
                     row=1, col=col,
                     minor=dict(ticks="inside", ticklen=6, tickwidth=2, tick0=2, dtick=1.5, showgrid=False))

# axis styling and domains
for r in range(1, 6):
    for c in range(1, 5):
        x0, x1 = COL_X[c - 1]
        yt, yb = ROW_Y[r - 1]
        fig.update_xaxes(domain=[px_x(x0), px_x(x1)], range=[50, 500],
                         tickmode="array", tickvals=X_TICKS, ticktext=X_TICK_TEXT,
                         showline=True, mirror=True, linecolor="black", linewidth=3,
                         ticks="inside", ticklen=10, tickwidth=2.5, tickcolor="black",
                         minor=dict(ticks="inside", ticklen=6, tickwidth=2, tick0=0, dtick=50, showgrid=False),
                         showgrid=False, zeroline=False,
                         tickfont=dict(family=FONT, size=28, color="black"), row=r, col=c)
        fig.update_yaxes(domain=[px_y(yb), px_y(yt)],
                         showline=True, mirror=True, linecolor="black", linewidth=3,
                         ticks="inside", ticklen=10, tickwidth=2.5, tickcolor="black",
                         showgrid=False, zeroline=False,
                         tickfont=dict(family=FONT, size=28, color="black"), row=r, col=c)

# row titles
TITLE_X = [68, 54, 58, 52, 52]
for r, (t, tx) in enumerate(zip(ROW_TITLES, TITLE_X)):
    yt, yb = ROW_Y[r]
    annotations.append(dict(x=px_x(tx), y=px_y((yt + yb) / 2), xref="paper", yref="paper",
                            text=t, showarrow=False, textangle=-90, xanchor="center", yanchor="middle",
                            font=dict(family=FONT, size=40 if r == 0 else 42, color="black")))

fig.update_layout(width=FW, height=FH, margin=dict(l=0, r=0, t=0, b=0),
                  paper_bgcolor="white", plot_bgcolor="white",
                  font=dict(family=FONT, color="black"),
                  annotations=annotations, hovermode=False)

fig.write_html("out.html")
